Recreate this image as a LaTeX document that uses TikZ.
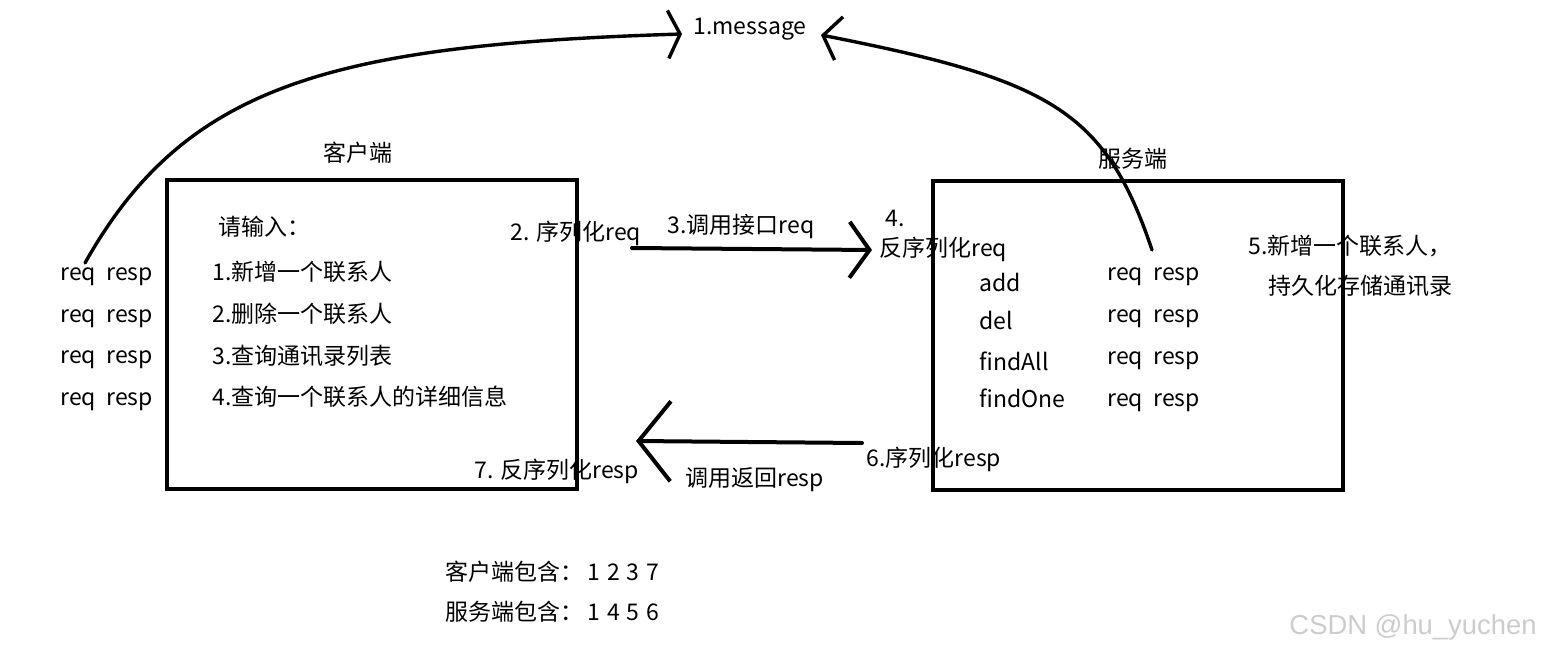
\documentclass[tikz,border=0pt]{standalone}
\usepackage{fontspec}
\setmainfont{Noto Sans CJK SC}
\newfontfamily\markfont{Liberation Sans}
\usetikzlibrary{arrows.meta}
\tikzset{
  txt/.style={anchor=west, inner sep=0pt, font=\fontsize{11.5}{14}\selectfont},
  box/.style={draw, line width=2pt, minimum width=205pt, minimum height=154.5pt, inner sep=0pt},
  stroke/.style={line width=1.7pt, line cap=round},
}
\begin{document}
\begin{tikzpicture}[x=0.5pt,y=-0.5pt]
\useasboundingbox (0,0) rectangle (1541,653);

\node[box] (client) at (372,334.5) {};
\node[box] (server) at (1138,335.5) {};

\node[txt, anchor=center] (clientname) at (358,153) {客户端};
\node[txt, anchor=center] (servername) at (1133,159) {服务端};
\node[txt] (msg) at (693,29) {1.message};

\node[txt] (prompt) at (218,227) {请输入：};
\node[txt] (menuadd) at (212,272) {1.新增一个联系人};
\node[txt] (menudel) at (212,314) {2.删除一个联系人};
\node[txt] (menuall) at (212,356) {3.查询通讯录列表};
\node[txt] (menuone) at (212,397) {4.查询一个联系人的详细信息};

\node[txt] (creqa) at (60,277) {req~~resp};
\node[txt] (creqb) at (60,319) {req~~resp};
\node[txt] (creqc) at (60,360) {req~~resp};
\node[txt] (creqd) at (60,402) {req~~resp};

\node[txt] (ser) at (510,233) {2. 序列化req};
\node[txt] (call) at (667,226) {3.调用接口req};
\node[txt] (desnum) at (885,218) {4.};
\node[txt] (des) at (879,249) {反序列化req};

\node[txt] (fadd) at (979,282) {add};
\node[txt] (fdel) at (979,320) {del};
\node[txt] (fall) at (979,361) {findAll};
\node[txt] (fone) at (979,398) {findOne};

\node[txt] (sreqa) at (1107,277) {req~~resp};
\node[txt] (sreqb) at (1107,319) {req~~resp};
\node[txt] (sreqc) at (1107,361) {req~~resp};
\node[txt] (sreqd) at (1107,403) {req~~resp};

\node[txt] (store) at (1248,246) {5.新增一个联系人，};
\node[txt] (storeb) at (1268,286) {持久化存储通讯录};

\node[txt] (serresp) at (866,459) {6.序列化resp};
\node[txt] (back) at (685,480) {调用返回resp};
\node[txt] (desresp) at (474,471) {7. 反序列化resp};

\node[txt] (sumclient) at (445,572) {客户端包含：\hspace{2pt}1\hspace{3.5pt}2\hspace{3.5pt}3\hspace{3.5pt}7};
\node[txt] (sumserver) at (445,612) {服务端包含：\hspace{2pt}1\hspace{3.5pt}4\hspace{3.5pt}5\hspace{3.5pt}6};

\node[anchor=east, inner sep=0pt, text=gray!40, font=\markfont\fontsize{13.7}{16}\selectfont] (mark) at (1537,627) {CSDN @hu\_yuchen};

\coordinate (lfrom) at (85,263);
\coordinate (lto) at (682,34);
\coordinate (rfrom) at (1152,250);
\coordinate (rto) at (821,35);
\coordinate (reqfrom) at (632,248);
\coordinate (reqto) at (872,250);
\coordinate (respfrom) at (862,443);
\coordinate (respto) at (636,441);

\draw[stroke, -{Straight Barb[length=6pt,width=24pt]}] (lfrom) .. controls (185,85) and (330,45) .. (lto);
\draw[stroke, -{Straight Barb[length=8pt,width=22pt]}] (rfrom) .. controls (1105,110) and (1050,80) .. (rto);
\draw[stroke, line width=2pt, -{Straight Barb[length=10pt,width=28pt]}] (reqfrom) -- (reqto);
\draw[stroke, line width=2pt, -{Straight Barb[length=16pt,width=40pt]}] (respfrom) -- (respto);
\end{tikzpicture}
\end{document}
